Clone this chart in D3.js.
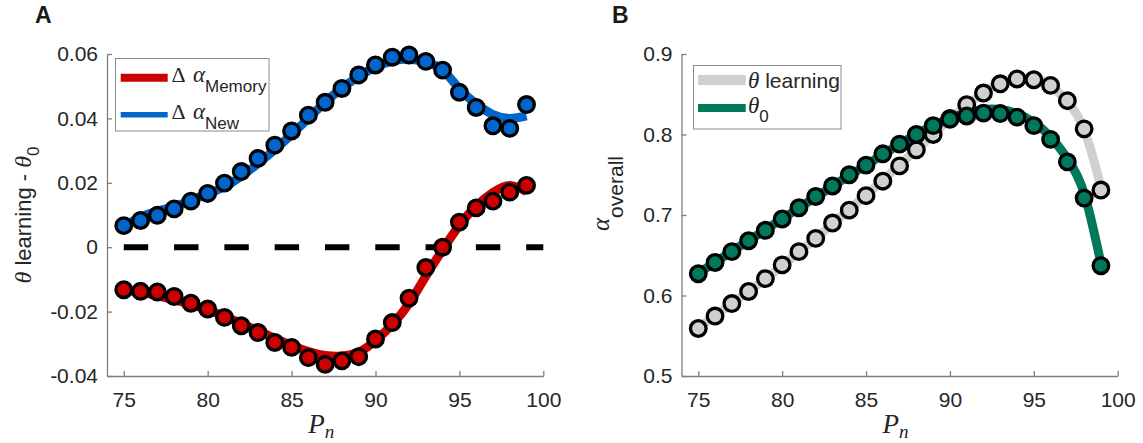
<!DOCTYPE html>
<html><head><meta charset="utf-8">
<script src="https://cdn.jsdelivr.net/npm/d3@7"></script>
<style>body{margin:0;background:#fff}svg{display:block}</style>
</head><body>
<svg id="c" width="1143" height="443"></svg>
<script>
// ---------- data ----------
const Pn = [75,76,77,78,79,80,81,82,83,84,85,86,87,88,89,90,91,92,93,94,95,96,97,98,99];

// Panel A
const memoryPts = [-0.0132,-0.0137,-0.0139,-0.0153,-0.0174,-0.0192,-0.0218,-0.0244,-0.0265,-0.0296,-0.0311,-0.0343,-0.0364,-0.0353,-0.0340,-0.0285,-0.0234,-0.0158,-0.0063,0.0000,0.0078,0.0122,0.0143,0.0171,0.0192];
const memoryFit = [-0.0133,-0.0140,-0.0150,-0.0163,-0.0178,-0.0195,-0.0215,-0.0237,-0.0260,-0.0283,-0.0305,-0.0324,-0.0336,-0.0338,-0.0326,-0.0290,-0.0240,-0.0175,-0.0090,-0.0008,0.0068,0.0128,0.0170,0.0192,0.0173];
const newPts = [0.0067,0.0083,0.0099,0.0119,0.0143,0.0167,0.0199,0.0235,0.0276,0.0317,0.0361,0.0410,0.0450,0.0493,0.0535,0.0566,0.0590,0.0597,0.0577,0.0550,0.0481,0.0434,0.0377,0.0369,0.0443];
const newFit = [0.0066,0.0093,0.0112,0.0126,0.0146,0.0166,0.0188,0.0220,0.0260,0.0303,0.0350,0.0400,0.0450,0.0494,0.0530,0.0560,0.0578,0.0584,0.0575,0.0550,0.0492,0.0445,0.0412,0.0400,0.0408];
const yTicksA = [-0.04,-0.02,0,0.02,0.04,0.06];
const yTickLabelsA = ["-0.04","-0.02","0","0.02","0.04","0.06"];

// Panel B
const learningPts = [0.559,0.5745,0.590,0.605,0.621,0.638,0.6545,0.671,0.690,0.706,0.724,0.742,0.761,0.781,0.800,0.820,0.837,0.8515,0.863,0.869,0.868,0.861,0.842,0.807,0.731];
const learningFit = [0.560,0.575,0.590,0.605,0.621,0.637,0.654,0.671,0.689,0.707,0.725,0.743,0.762,0.781,0.800,0.819,0.836,0.852,0.864,0.870,0.869,0.860,0.841,0.806,0.735];
const theta0Pts = [0.627,0.641,0.6545,0.668,0.681,0.695,0.709,0.723,0.736,0.750,0.762,0.776,0.788,0.800,0.811,0.819,0.823,0.8266,0.826,0.8216,0.811,0.794,0.766,0.721,0.637];
const theta0Fit = [0.628,0.641,0.655,0.668,0.682,0.695,0.709,0.722,0.736,0.749,0.762,0.775,0.788,0.800,0.811,0.820,0.827,0.831,0.831,0.826,0.815,0.797,0.770,0.727,0.640];
const yTicksB = [0.5,0.6,0.7,0.8,0.9];
const yTickLabelsB = ["0.5","0.6","0.7","0.8","0.9"];

const xTicks = [75,80,85,90,95,100];
const xTickLabels = ["75","80","85","90","95","100"];

// ---------- styles ----------
const SANS = "'Liberation Sans', Arial, Helvetica, sans-serif";
const SERIF = "'Liberation Serif', 'Times New Roman', serif";
const RED = "#cc0000", BLUE = "#0066cc", GREEN = "#00785c", GRAY = "#d0d0d0";
const AXIS = "#7f7f7f", TXT = "#262626";

const svg = d3.select("#c");

function panel(opt) {
  const x = d3.scaleLinear().domain([74,100]).range([opt.x0, opt.x1]);
  const y = d3.scaleLinear().domain(opt.yDomain).range([376, 54]);
  const g = svg.append("g");

  const ax = g.append("g").attr("transform", "translate(0,376)")
    .call(d3.axisBottom(x).tickValues(xTicks).tickFormat((d,i)=>xTickLabels[i]).tickSizeInner(-5).tickSizeOuter(0).tickPadding(16));
  const ay = g.append("g").attr("transform", `translate(${opt.x0},0)`)
    .call(d3.axisLeft(y).tickValues(opt.yTicks).tickFormat((d,i)=>opt.yLabels[i]).tickSizeInner(-5).tickSizeOuter(0).tickPadding(9));
  [ax, ay].forEach(a => {
    a.select(".domain").attr("stroke", AXIS).attr("stroke-width", 1.3);
    a.selectAll(".tick line").attr("stroke", AXIS).attr("stroke-width", 1.3);
    a.selectAll(".tick text").attr("fill", TXT).style("font-family", SANS).style("font-size", "21px");
  });

  const line = d3.line().x((d,i)=>x(Pn[i])).y(d=>y(d)).curve(d3.curveNatural);
  opt.series.forEach(s => {
    g.append("path").datum(s.fit).attr("d", line).attr("fill","none")
      .attr("stroke", s.color).attr("stroke-width", 9);
  });
  if (opt.zeroLine) {
    g.append("line").attr("x1", x(75)).attr("x2", x(100)).attr("y1", y(0)).attr("y2", y(0))
      .attr("stroke", "#000").attr("stroke-width", 6).attr("stroke-dasharray", "24.4 25.9");
  }
  opt.series.forEach(s => {
    g.append("g").selectAll("circle").data(s.pts).join("circle")
      .attr("cx", (d,i)=>x(Pn[i])).attr("cy", d=>y(d)).attr("r", 7.8)
      .attr("fill", s.color).attr("stroke", "#000").attr("stroke-width", 3.3);
  });

  const xl = g.append("text").attr("x", (opt.x0+opt.x1)/2 - 4).attr("y", 433)
    .attr("text-anchor", "middle").attr("fill", TXT);
  xl.append("tspan").text("P").style("font-family", SERIF).style("font-style","italic").style("font-size","27px");
  xl.append("tspan").text("n").attr("dy", 5).style("font-family", SERIF).style("font-style","italic").style("font-size","19px");

  g.append("text").attr("x", opt.letterX).attr("y", 23).text(opt.letter)
    .style("font-family", SANS).style("font-weight","bold").style("font-size","23px").attr("fill", "#1a1a1a");
  return {x, y, g};
}

// Panel A
panel({
  x0: 107, x1: 543.3, yDomain: [-0.04, 0.06], yTicks: yTicksA, yLabels: yTickLabelsA,
  zeroLine: true, letter: "A", letterX: 35,
  series: [
    {fit: memoryFit, pts: memoryPts, color: RED},
    {fit: newFit, pts: newPts, color: BLUE}
  ]
});
{
  const t = svg.append("text").attr("transform", "translate(31,215) rotate(-90)")
    .attr("text-anchor", "middle").attr("fill", TXT).style("font-size","22px").style("font-family", SANS);
  t.append("tspan").text("\u03B8").style("font-family", SERIF).style("font-style","italic").style("font-size","24px");
  t.append("tspan").text(" learning - ");
  t.append("tspan").text("\u03B8").style("font-family", SERIF).style("font-style","italic").style("font-size","24px");
  t.append("tspan").text("0").attr("dy", 8).style("font-size","17px");
}
{
  const g = svg.append("g");
  g.append("rect").attr("x",115.5).attr("y",58.5).attr("width",153.5).attr("height",72.5)
    .attr("fill","#fff").attr("stroke","#8c8c8c").attr("stroke-width",1);
  const rows = [{c: RED, w: 8, y: 77.7, sub: "Memory"}, {c: BLUE, w: 5.5, y: 114.7, sub: "New"}];
  rows.forEach(r => {
    g.append("line").attr("x1",120.7).attr("x2",167.7).attr("y1",r.y).attr("y2",r.y)
      .attr("stroke", r.c).attr("stroke-width", r.w);
    const t = g.append("text").attr("x",171.5).attr("y", r.y+4).attr("fill", TXT);
    t.append("tspan").text("\u0394").style("font-family", SERIF).style("font-size","22px");
    t.append("tspan").attr("x",193).text("\u03B1").style("font-family", SERIF).style("font-style","italic").style("font-size","23px");
    t.append("tspan").attr("x",205).attr("dy",10).text(r.sub).style("font-family", SANS).style("font-size","17px");
  });
}

// Panel B
panel({
  x0: 681.5, x1: 1117.7, yDomain: [0.5, 0.9], yTicks: yTicksB, yLabels: yTickLabelsB,
  zeroLine: false, letter: "B", letterX: 612,
  series: [
    {fit: learningFit, pts: learningPts, color: GRAY},
    {fit: theta0Fit, pts: theta0Pts, color: GREEN}
  ]
});
{
  const t = svg.append("text").attr("transform", "translate(609,231) rotate(-90)")
    .attr("text-anchor", "start").attr("fill", TXT);
  t.append("tspan").text("\u03B1").style("font-family", SERIF).style("font-style","italic").style("font-size","25px");
  t.append("tspan").text("overall").attr("dy", 14).style("font-family", SANS).style("font-size","21px");
}
{
  const g = svg.append("g");
  g.append("rect").attr("x",693.5).attr("y",65.5).attr("width",147.5).attr("height",63.5)
    .attr("fill","#fff").attr("stroke","#8c8c8c").attr("stroke-width",1);
  g.append("line").attr("x1",698).attr("x2",745.7).attr("y1",80).attr("y2",80)
    .attr("stroke", GRAY).attr("stroke-width", 10);
  const t1 = g.append("text").attr("x",748).attr("y",88).attr("fill", TXT);
  t1.append("tspan").text("\u03B8").style("font-family", SERIF).style("font-style","italic").style("font-size","23px");
  t1.append("tspan").text(" learning").style("font-family", SANS).style("font-size","21px");
  g.append("line").attr("x1",698).attr("x2",745.7).attr("y1",108).attr("y2",108)
    .attr("stroke", GREEN).attr("stroke-width", 8);
  const t2 = g.append("text").attr("x",748).attr("y",113).attr("fill", TXT);
  t2.append("tspan").text("\u03B8").style("font-family", SERIF).style("font-style","italic").style("font-size","23px");
  t2.append("tspan").text("0").attr("dy",9).style("font-family", SANS).style("font-size","17px");
}
</script>
</body></html>
